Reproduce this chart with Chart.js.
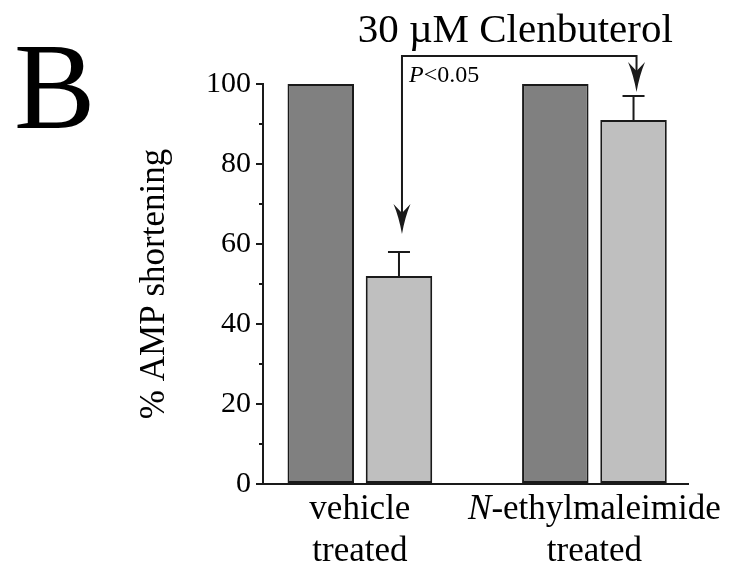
<!DOCTYPE html>
<html>
<head>
<meta charset="utf-8">
<script src="https://cdn.jsdelivr.net/npm/chart.js@4.4.0/dist/chart.umd.min.js"></script>
<style>
  html, body { margin: 0; padding: 0; background: #fff; }
  #wrap { width: 735px; height: 568px; }
</style>
</head>
<body>
<div id="wrap"><canvas id="chart"></canvas></div>
<script>
const groups = [0, 1];
const groupLabels = [['vehicle', 'treated'], ['N-ethylmaleimide', 'treated']];
const controlValues = [100, 100];
const clenValues = [52, 91];
const clenErrors = [6, 6];
const yTicks = [0, 20, 40, 60, 80, 100];
const yMinorTicks = [10, 30, 50, 70, 90];
const panelLetter = 'B';
const treatmentLabel = '30 \u00b5M Clenbuterol';
const pLabel = ['P', '<0.05'];
const bracketLevel = 107;
const arrowTips = [62.5, 98];

const serif = "'Liberation Serif', 'Times New Roman', serif";
const ink = '#1a1a1a';

// error bars, minor ticks, x labels and the clenbuterol bracket
const extrasPlugin = {
    id: 'extras',
    afterDatasetsDraw(chart) {
        const ctx = chart.ctx;
        const xs = chart.scales.x;
        const ys = chart.scales.y;
        const area = chart.chartArea;
        const clenBars = chart.getDatasetMeta(1).data;

        ctx.save();
        ctx.strokeStyle = ink;
        ctx.fillStyle = ink;
        ctx.lineWidth = 2;

        // error bars (upper only)
        clenBars.forEach((bar, i) => {
            const top = ys.getPixelForValue(clenValues[i] + clenErrors[i]);
            ctx.beginPath();
            ctx.moveTo(bar.x, bar.y);
            ctx.lineTo(bar.x, top);
            ctx.moveTo(bar.x - 11, top);
            ctx.lineTo(bar.x + 11, top);
            ctx.stroke();
        });

        // minor ticks
        yMinorTicks.forEach(v => {
            const y = ys.getPixelForValue(v);
            ctx.beginPath();
            ctx.moveTo(area.left - 4, y);
            ctx.lineTo(area.left, y);
            ctx.stroke();
        });

        // bracket with arrows
        const bY = ys.getPixelForValue(bracketLevel);
        const ax = clenBars.map(b => b.x + 3);
        ctx.beginPath();
        ctx.moveTo(ax[0], ys.getPixelForValue(arrowTips[0]) - 10);
        ctx.lineTo(ax[0], bY);
        ctx.lineTo(ax[1], bY);
        ctx.lineTo(ax[1], ys.getPixelForValue(arrowTips[1]) - 10);
        ctx.stroke();
        ax.forEach((x, i) => {
            const tip = ys.getPixelForValue(arrowTips[i]);
            ctx.beginPath();
            ctx.moveTo(x, tip);
            ctx.quadraticCurveTo(x - 3, tip - 17, x - 8.5, tip - 30);
            ctx.lineTo(x, tip - 21);
            ctx.lineTo(x + 8.5, tip - 30);
            ctx.quadraticCurveTo(x + 3, tip - 17, x, tip);
            ctx.fill();
        });

        ctx.textBaseline = 'alphabetic';
        ctx.fillStyle = '#000';

        // P value
        ctx.textAlign = 'left';
        ctx.font = 'italic 24px ' + serif;
        ctx.fillText(pLabel[0], ax[0] + 7, bY + 26);
        const pw = ctx.measureText(pLabel[0]).width;
        ctx.font = '24px ' + serif;
        ctx.fillText(pLabel[1], ax[0] + 7 + pw, bY + 26);

        // treatment label
        ctx.textAlign = 'center';
        ctx.font = '41px ' + serif;
        ctx.fillText(treatmentLabel, (ax[0] + ax[1]) / 2 - 4, bY - 14);

        // panel letter
        ctx.textAlign = 'left';
        ctx.font = '122px ' + serif;
        ctx.fillText(panelLetter, 14, 128);

        // x category labels, leading "N" in italics
        groups.forEach((g, i) => {
            const cx = xs.getPixelForValue(g);
            groupLabels[i].forEach((line, k) => {
                const y = area.bottom + 35 + k * 42;
                if (line.startsWith('N-')) {
                    ctx.font = 'italic 35px ' + serif;
                    const nw = ctx.measureText('N').width;
                    ctx.font = '35px ' + serif;
                    const rest = line.slice(1);
                    const rw = ctx.measureText(rest).width;
                    const x0 = cx - (nw + rw) / 2;
                    ctx.textAlign = 'left';
                    ctx.font = 'italic 35px ' + serif;
                    ctx.fillText('N', x0, y);
                    ctx.font = '35px ' + serif;
                    ctx.fillText(rest, x0 + nw, y);
                } else {
                    ctx.textAlign = 'center';
                    ctx.font = '35px ' + serif;
                    ctx.fillText(line, cx, y);
                }
            });
        });
        ctx.restore();
    }
};

const barStyle = {
    borderColor: ink,
    borderWidth: 2,
    borderSkipped: false,
    categoryPercentage: 0.667,
    barPercentage: 0.85
};

new Chart(document.getElementById('chart'), {
    type: 'bar',
    data: {
        datasets: [
            {
                label: 'control',
                data: groups.map((g, i) => ({ x: g, y: controlValues[i] })),
                backgroundColor: '#808080',
                ...barStyle
            },
            {
                label: '30 \u00b5M Clenbuterol',
                data: groups.map((g, i) => ({ x: g, y: clenValues[i] })),
                backgroundColor: '#bfbfbf',
                ...barStyle
            }
        ]
    },
    options: {
        responsive: true,
        maintainAspectRatio: false,
        animation: false,
        layout: { padding: { left: 130, right: 47, top: 84, bottom: 84 } },
        plugins: {
            legend: { display: false },
            tooltip: { enabled: false }
        },
        scales: {
            x: {
                type: 'linear',
                min: -0.413,
                max: 1.399,
                offset: false,
                grid: { display: false, drawTicks: false },
                ticks: { display: false },
                border: { display: true, color: ink, width: 2 },
                afterBuildTicks: s => { s.ticks = groups.map(v => ({ value: v })); }
            },
            y: {
                min: 0,
                max: 100,
                afterBuildTicks: s => { s.ticks = yTicks.map(v => ({ value: v })); },
                ticks: { padding: 5, color: '#000', font: { family: serif, size: 30 } },
                grid: { drawOnChartArea: false, tickLength: 7, color: ink, lineWidth: 2 },
                border: { color: ink, width: 2 },
                title: {
                    display: true,
                    text: '% AMP shortening',
                    color: '#000',
                    font: { family: serif, size: 35 },
                    padding: { top: 4, bottom: 25 }
                }
            }
        }
    },
    plugins: [extrasPlugin]
});
</script>
</body>
</html>
